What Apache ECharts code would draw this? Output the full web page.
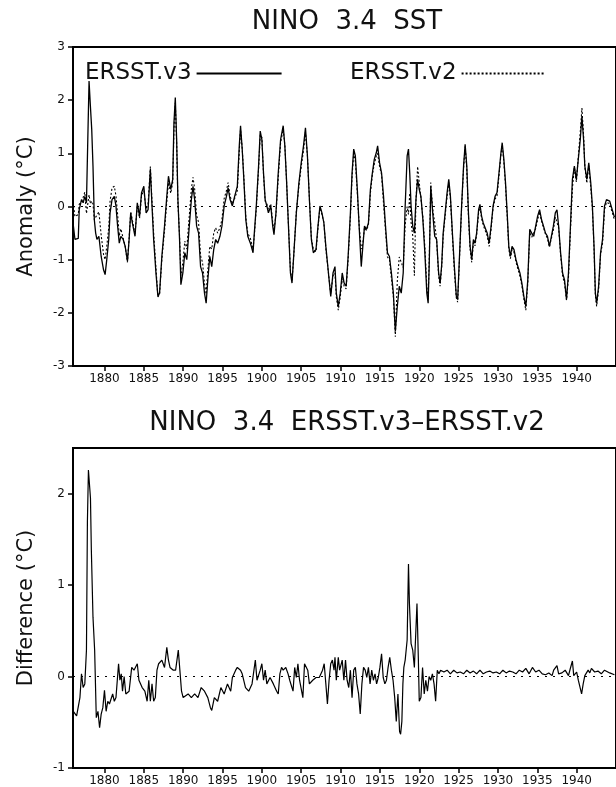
<!DOCTYPE html>
<html><head><meta charset="utf-8">
<script src="https://cdn.jsdelivr.net/npm/echarts@6/dist/echarts.min.js"></script>
<style>html,body{margin:0;padding:0;background:#fff}#c{width:616px;height:787px}</style>
</head><body><div id="c"></div>
<script>
const xTickYears = [1880,1885,1890,1895,1900,1905,1910,1915,1920,1925,1930,1935,1940];
const anomalyTicks = [-3,-2,-1,0,1,2,3];
const diffTicks = [-1,0,1,2];

const topYears = [
1876.00,1876.25,1876.67,1876.79,1877.08,1877.29,1877.50,1877.71,1877.88,1878.04,1878.21,1878.38,1878.54,1878.71,1878.88,
1879.04,1879.29,1879.58,1879.88,1880.08,1880.29,1880.54,1880.71,1880.96,1881.25,1881.46,1881.67,1881.88,1882.08,1882.38,
1882.63,1882.92,1883.13,1883.33,1883.54,1883.88,1884.17,1884.46,1884.71,1885.00,1885.29,1885.54,1885.83,1886.04,1886.25,
1886.54,1886.79,1887.00,1887.29,1887.63,1887.92,1888.13,1888.42,1888.67,1888.83,1889.00,1889.17,1889.33,1889.54,1889.71,
1889.96,1890.21,1890.46,1890.71,1891.04,1891.25,1891.46,1891.71,1891.96,1892.21,1892.46,1892.71,1892.92,1893.13,1893.38,
1893.63,1893.88,1894.13,1894.38,1894.67,1894.92,1895.21,1895.50,1895.71,1895.96,1896.25,1896.54,1896.88,1897.13,1897.29,
1897.50,1897.71,1897.96,1898.21,1898.54,1898.88,1899.04,1899.29,1899.58,1899.79,1900.00,1900.21,1900.42,1900.63,1900.83,
1901.13,1901.38,1901.54,1901.79,1902.08,1902.38,1902.71,1902.92,1903.13,1903.38,1903.63,1903.83,1904.04,1904.38,1904.71,
1905.00,1905.29,1905.54,1905.79,1906.04,1906.29,1906.54,1906.88,1907.13,1907.38,1907.63,1907.88,1908.13,1908.46,1908.75,
1909.04,1909.29,1909.46,1909.71,1909.96,1910.21,1910.46,1910.71,1910.96,1911.25,1911.46,1911.67,1911.88,1912.13,1912.38,
1912.63,1912.83,1913.04,1913.29,1913.54,1913.79,1914.04,1914.29,1914.54,1914.71,1914.96,1915.21,1915.46,1915.71,1915.96,
1916.21,1916.46,1916.71,1916.96,1917.21,1917.46,1917.71,1917.96,1918.21,1918.46,1918.63,1918.79,1918.96,1919.17,1919.38,
1919.58,1919.79,1920.00,1920.21,1920.46,1920.71,1920.96,1921.13,1921.29,1921.46,1921.71,1921.96,1922.21,1922.46,1922.65,
1922.85,1923.04,1923.29,1923.54,1923.75,1923.96,1924.21,1924.46,1924.71,1924.88,1925.13,1925.38,1925.63,1925.83,1926.04,
1926.25,1926.46,1926.67,1926.88,1927.08,1927.29,1927.54,1927.71,1927.92,1928.13,1928.38,1928.63,1928.88,1929.13,1929.38,
1929.63,1929.88,1930.13,1930.38,1930.54,1930.75,1930.96,1931.17,1931.38,1931.58,1931.79,1932.04,1932.29,1932.54,1932.79,
1933.04,1933.29,1933.54,1933.79,1934.04,1934.29,1934.54,1934.79,1935.04,1935.29,1935.54,1935.79,1936.04,1936.29,1936.54,
1936.79,1937.04,1937.29,1937.50,1937.71,1937.96,1938.21,1938.46,1938.71,1938.96,1939.21,1939.46,1939.71,1939.96,1940.21,
1940.46,1940.67,1940.88,1941.04,1941.29,1941.54,1941.79,1942.00,1942.21,1942.38,1942.54,1942.79,1943.04,1943.29,1943.54,
1943.79,1944.20,1944.80
];
const v3Values = [
-0.30,-0.62,-0.60,-0.06,0.13,0.07,0.19,0.07,1.26,2.36,1.89,1.45,0.76,-0.25,-0.50,
-0.62,-0.56,-0.94,-1.19,-1.28,-1.00,-0.62,-0.12,0.13,0.19,0.01,-0.37,-0.69,-0.56,-0.62,
-0.75,-1.03,-0.62,-0.12,-0.31,-0.56,0.07,-0.18,0.26,0.38,-0.12,-0.06,0.70,0.01,-0.62,
-1.25,-1.69,-1.63,-0.94,-0.37,0.19,0.57,0.32,0.51,1.58,2.05,1.26,0.13,-0.62,-1.47,
-1.25,-0.87,-1.00,-0.50,0.13,0.38,0.13,-0.37,-0.50,-1.13,-1.25,-1.63,-1.82,-1.38,-0.94,
-1.13,-0.81,-0.62,-0.69,-0.56,-0.37,0.01,0.19,0.35,0.13,0.01,0.19,0.38,1.14,1.52,
1.08,0.51,-0.25,-0.56,-0.69,-0.87,-0.50,0.01,0.76,1.42,1.26,0.63,0.13,0.01,-0.12,
0.01,-0.37,-0.53,-0.12,0.63,1.26,1.52,1.14,0.51,-0.37,-1.25,-1.44,-0.94,-0.12,0.45,
0.82,1.14,1.48,0.95,0.13,-0.62,-0.87,-0.81,-0.37,0.01,-0.12,-0.31,-0.75,-1.25,-1.69,
-1.25,-1.13,-1.63,-1.88,-1.63,-1.25,-1.44,-1.50,-0.94,-0.12,0.63,1.08,0.95,0.32,-0.43,
-1.13,-0.75,-0.37,-0.43,-0.31,0.32,0.63,0.89,1.01,1.14,0.82,0.63,0.19,-0.37,-0.87,
-0.94,-1.25,-1.63,-2.35,-1.88,-1.50,-1.63,-1.25,0.01,0.95,1.08,0.63,0.01,-0.37,-0.50,
0.13,0.51,0.32,0.19,-0.25,-0.87,-1.63,-1.82,-0.94,0.38,-0.12,-0.56,-0.62,-1.25,-1.44,
-1.10,-0.50,-0.12,0.26,0.51,0.19,-0.50,-1.13,-1.69,-1.75,-0.87,0.01,0.76,1.17,0.76,
-0.12,-0.75,-1.00,-0.62,-0.69,-0.50,-0.06,0.04,-0.18,-0.31,-0.28,-0.50,-0.69,-0.37,0.01,
0.19,0.26,0.63,1.01,1.20,0.89,0.45,-0.12,-0.75,-0.94,-0.75,-0.81,-1.00,-1.13,-1.25,
-1.44,-1.69,-1.88,-1.38,-0.43,-0.50,-0.56,-0.37,-0.18,-0.06,-0.25,-0.37,-0.50,-0.56,-0.75,
-0.56,-0.37,-0.12,-0.06,-0.37,-0.87,-1.25,-1.38,-1.75,-1.25,-0.37,0.51,0.76,0.51,0.89,
1.26,1.70,1.26,0.76,0.51,0.82,0.45,0.01,-0.75,-1.63,-1.82,-1.50,-0.87,-0.62,0.01,
0.13,0.10,-0.20
];
const v2Values = [
0.08,-0.19,-0.15,0.04,0.10,0.17,0.27,-0.13,0.05,0.22,0.05,0.10,0.05,-0.25,-0.20,
-0.20,-0.10,-0.54,-0.90,-1.00,-0.75,-0.40,0.10,0.35,0.38,0.20,-0.15,-0.55,-0.42,-0.60,
-0.75,-1.05,-0.60,-0.10,-0.25,-0.52,0.02,-0.22,0.20,0.30,-0.05,0.05,0.75,0.10,-0.50,
-1.15,-1.70,-1.65,-1.00,-0.45,0.10,0.45,0.25,0.45,1.45,1.95,1.20,0.10,-0.55,-1.30,
-1.05,-0.65,-0.80,-0.30,0.33,0.55,0.33,-0.17,-0.30,-0.93,-1.05,-1.45,-1.65,-1.20,-0.75,
-0.80,-0.50,-0.40,-0.50,-0.40,-0.25,0.15,0.30,0.45,0.20,0.05,0.15,0.30,1.05,1.45,
1.10,0.55,-0.20,-0.50,-0.60,-0.80,-0.55,-0.05,0.70,1.35,1.30,0.60,0.10,0.05,-0.05,
0.05,-0.30,-0.45,-0.15,0.55,1.20,1.45,1.15,0.50,-0.35,-1.20,-1.40,-0.95,-0.10,0.40,
0.75,1.05,1.40,0.95,0.15,-0.60,-0.80,-0.85,-0.40,-0.02,-0.15,-0.30,-0.80,-1.25,-1.65,
-1.30,-1.25,-1.70,-1.95,-1.70,-1.35,-1.50,-1.55,-1.00,-0.20,0.55,1.00,0.85,0.25,-0.40,
-0.80,-0.70,-0.40,-0.45,-0.35,0.25,0.60,0.80,0.95,1.00,0.75,0.60,0.05,-0.45,-0.95,
-1.00,-1.35,-1.70,-2.45,-1.40,-0.95,-1.05,-1.15,-0.35,0.00,-0.15,0.25,-0.30,-0.55,-1.30,
0.10,0.75,0.45,0.15,-0.20,-0.75,-1.50,-1.75,-0.85,0.45,-0.05,-0.30,-0.65,-1.30,-1.50,
-1.15,-0.55,-0.18,0.20,0.45,0.15,-0.55,-1.20,-1.72,-1.80,-0.92,-0.04,0.72,1.13,0.70,
-0.18,-0.80,-1.05,-0.68,-0.74,-0.53,-0.12,-0.01,-0.22,-0.35,-0.34,-0.55,-0.75,-0.42,-0.03,
0.14,0.20,0.58,0.97,1.15,0.83,0.40,-0.17,-0.80,-0.98,-0.81,-0.86,-1.04,-1.18,-1.31,
-1.49,-1.74,-1.95,-1.45,-0.48,-0.58,-0.61,-0.42,-0.25,-0.10,-0.28,-0.40,-0.52,-0.60,-0.76,
-0.60,-0.44,-0.20,-0.18,-0.40,-0.91,-1.30,-1.45,-1.76,-1.33,-0.45,0.34,0.74,0.46,0.93,
1.40,1.85,1.34,0.75,0.44,0.77,0.36,-0.05,-0.80,-1.68,-1.88,-1.56,-0.90,-0.69,-0.06,
0.08,0.05,-0.25
];

const diffYears = [
1876.04,1876.46,1876.67,1876.88,1877.08,1877.29,1877.50,1877.71,1877.83,1877.96,1878.13,1878.22,1878.33,1878.54,1878.75,
1878.96,1879.17,1879.38,1879.58,1879.79,1880.00,1880.21,1880.42,1880.63,1881.04,1881.25,1881.46,1881.79,1881.96,1882.13,
1882.29,1882.50,1882.71,1883.13,1883.46,1883.75,1884.17,1884.38,1884.79,1885.13,1885.42,1885.63,1885.83,1886.04,1886.25,
1886.46,1886.67,1886.88,1887.29,1887.63,1887.92,1888.13,1888.33,1888.75,1889.04,1889.38,1889.58,1889.79,1890.00,1890.63,
1891.04,1891.46,1891.88,1892.29,1892.71,1893.13,1893.46,1893.63,1893.96,1894.38,1894.79,1895.21,1895.63,1896.04,1896.25,
1896.67,1896.88,1897.29,1897.50,1897.92,1898.33,1898.75,1899.17,1899.38,1899.58,1899.79,1900.00,1900.21,1900.42,1900.63,
1901.04,1901.46,1901.88,1902.08,1902.29,1902.50,1902.71,1903.04,1903.33,1903.54,1903.96,1904.17,1904.38,1904.58,1904.79,
1905.21,1905.42,1905.63,1905.83,1906.04,1906.46,1906.88,1907.29,1907.71,1907.92,1908.13,1908.33,1908.54,1908.75,1908.96,
1909.17,1909.29,1909.46,1909.71,1909.88,1910.21,1910.42,1910.63,1910.83,1911.04,1911.25,1911.46,1911.67,1911.88,1912.08,
1912.29,1912.50,1912.71,1912.92,1913.13,1913.33,1913.54,1913.75,1913.96,1914.17,1914.38,1914.58,1914.79,1915.00,1915.21,
1915.42,1915.63,1915.83,1916.04,1916.25,1916.46,1916.67,1916.88,1917.08,1917.29,1917.50,1917.63,1917.79,1917.92,1918.04,
1918.21,1918.46,1918.63,1918.75,1918.96,1919.17,1919.38,1919.50,1919.71,1919.88,1920.00,1920.21,1920.42,1920.63,1920.83,
1921.04,1921.25,1921.46,1921.67,1921.88,1922.08,1922.29,1922.50,1922.71,1923.13,1923.54,1923.96,1924.38,1924.79,1925.21,
1925.63,1926.04,1926.46,1926.88,1927.29,1927.71,1928.13,1928.54,1928.96,1929.38,1929.79,1930.21,1930.63,1931.04,1931.46,
1931.88,1932.29,1932.71,1933.13,1933.54,1933.75,1933.96,1934.38,1934.79,1935.21,1935.63,1936.04,1936.46,1936.88,1937.08,
1937.50,1937.71,1938.13,1938.54,1938.96,1939.17,1939.46,1939.63,1940.00,1940.21,1940.63,1940.83,1941.04,1941.46,1941.67,
1941.88,1942.29,1942.71,1943.13,1943.54,1943.75,1944.20,1944.80
];
const diffValues = [
-0.38,-0.43,-0.45,-0.23,0.03,-0.12,-0.08,0.29,1.69,2.26,2.06,1.95,1.39,0.65,0.29,
-0.45,-0.38,-0.56,-0.41,-0.34,-0.15,-0.38,-0.27,-0.30,-0.19,-0.27,-0.23,0.14,-0.04,0.03,
-0.16,0.00,-0.19,-0.16,0.10,0.07,0.14,-0.04,-0.12,-0.16,-0.27,-0.04,-0.27,-0.08,-0.27,
-0.23,0.07,0.14,0.18,0.10,0.32,0.18,0.10,0.07,0.07,0.29,0.07,-0.16,-0.23,-0.19,
-0.23,-0.19,-0.23,-0.12,-0.16,-0.23,-0.34,-0.37,-0.23,-0.27,-0.12,-0.19,-0.08,-0.16,-0.01,
0.07,0.10,0.07,0.03,-0.12,-0.16,-0.08,0.18,-0.04,-0.04,0.07,0.14,-0.04,0.07,-0.08,
-0.01,-0.08,-0.16,-0.19,0.03,0.10,0.07,0.10,0.03,-0.04,-0.16,0.10,-0.01,0.14,-0.04,
-0.23,0.14,0.14,0.07,-0.08,-0.04,-0.01,-0.01,0.07,0.14,-0.08,-0.30,-0.04,0.14,0.18,
0.07,0.21,-0.04,0.21,0.07,0.18,-0.04,0.18,-0.04,-0.12,0.07,-0.23,0.07,0.10,-0.08,
-0.19,-0.41,-0.08,0.10,0.07,-0.01,0.10,-0.08,0.07,-0.04,0.03,-0.08,-0.01,0.10,0.25,
-0.01,-0.08,-0.04,0.10,0.21,0.07,-0.04,-0.23,-0.49,-0.19,-0.60,-0.63,-0.49,-0.08,0.10,
0.18,0.40,1.23,0.80,0.36,0.29,0.10,0.36,0.80,0.21,-0.27,-0.23,0.10,-0.19,-0.04,
-0.16,0.00,-0.04,0.03,-0.08,-0.27,0.07,0.03,0.07,0.05,0.07,0.03,0.07,0.04,0.05,
0.03,0.07,0.04,0.06,0.03,0.07,0.03,0.05,0.06,0.04,0.05,0.03,0.07,0.04,0.06,
0.05,0.03,0.07,0.05,0.09,0.07,0.03,0.10,0.05,0.07,0.03,0.02,0.04,0.01,0.07,
0.12,0.03,0.04,0.07,0.01,0.08,0.17,0.01,0.05,-0.04,-0.19,-0.08,0.01,0.07,0.04,
0.09,0.05,0.06,0.03,0.07,0.05,0.04,0.02
];

const FONT = 'DejaVu Sans';
const INK = '#111';

function xAxisCfg(gi) {
  return {
    type: 'value', gridIndex: gi, min: 1876, max: 1945,
    axisLine: {show: true, onZero: false, lineStyle: {color: '#000', width: 2}},
    axisTick: {show: true, customValues: xTickYears, length: 5, lineStyle: {color: '#000', width: 1.5}},
    axisLabel: {customValues: xTickYears, fontSize: 12, fontFamily: FONT, color: INK, margin: 7,
      formatter: v => String(v)},
    splitLine: {show: false}
  };
}
function yAxisCfg(gi, name, mn, mx, ticks) {
  return {
    type: 'value', gridIndex: gi, min: mn, max: mx,
    name: name, nameLocation: 'middle', nameGap: 36,
    nameTextStyle: {fontSize: 21, fontFamily: FONT, color: INK},
    axisLine: {show: true, onZero: false, lineStyle: {color: '#000', width: 2}},
    axisTick: {show: true, customValues: ticks, length: 5, lineStyle: {color: '#000', width: 1.5}},
    axisLabel: {customValues: ticks, fontSize: 12, fontFamily: FONT, color: INK, margin: 8,
      formatter: v => String(v)},
    splitLine: {show: false}
  };
}
const zeroLine = {
  silent: true, symbol: ['none', 'none'], label: {show: false},
  lineStyle: {color: '#000', type: [2, 6], width: 1.2},
  data: [{yAxis: 0}], animation: false
};

const chart = echarts.init(document.getElementById('c'), null, {renderer: 'canvas'});
chart.setOption({
  backgroundColor: '#fff',
  animation: false,
  graphic: [
    {type: 'text', x: 347, y: 22, style: {text: 'NINO  3.4  SST', font: '26px "DejaVu Sans"', fill: INK, align: 'center', verticalAlign: 'middle'}},
    {type: 'text', x: 347, y: 423, style: {text: 'NINO  3.4  ERSST.v3\u2013ERSST.v2', font: '26px "DejaVu Sans"', fill: INK, align: 'center', verticalAlign: 'middle'}}
  ],
  legend: [
    {data: ['ERSST.v3'], left: 80, top: 57, align: 'right', itemWidth: 85, itemHeight: 12,
     selectedMode: false, textStyle: {fontSize: 23, fontFamily: FONT, color: INK},
     itemStyle: {opacity: 0}},
    {data: ['ERSST.v2'], left: 345, top: 57, align: 'right', itemWidth: 83, itemHeight: 12,
     selectedMode: false, textStyle: {fontSize: 23, fontFamily: FONT, color: INK},
     itemStyle: {opacity: 0}}
  ],
  grid: [
    {left: 73, top: 47, height: 319, right: -9, show: true, borderColor: '#000', borderWidth: 2, backgroundColor: 'transparent'},
    {left: 73, top: 448, height: 320, right: -9, show: true, borderColor: '#000', borderWidth: 2, backgroundColor: 'transparent'}
  ],
  xAxis: [xAxisCfg(0), xAxisCfg(1)],
  yAxis: [
    Object.assign(yAxisCfg(0, 'Anomaly (\u00B0C)', -3, 3, anomalyTicks), {interval: 1}),
    yAxisCfg(1, 'Difference (\u00B0C)', -1, 2.5, diffTicks)
  ],
  series: [
    {type: 'line', name: 'ERSST.v3', xAxisIndex: 0, yAxisIndex: 0, symbol: 'none',
     data: topYears.map((y, i) => [y, v3Values[i]]),
     lineStyle: {color: '#000', width: 1.3}, itemStyle: {color: '#000'}, markLine: zeroLine, z: 3},
    {type: 'line', name: 'ERSST.v2', xAxisIndex: 0, yAxisIndex: 0, symbol: 'none',
     data: topYears.map((y, i) => [y, v2Values[i]]),
     lineStyle: {color: '#000', width: 1.1, type: [2, 2]}, itemStyle: {color: '#000'}, z: 2},
    {type: 'line', name: 'Difference', xAxisIndex: 1, yAxisIndex: 1, symbol: 'none',
     data: diffYears.map((y, i) => [y, diffValues[i]]),
     lineStyle: {color: '#000', width: 1.2}, itemStyle: {color: '#000'}, markLine: zeroLine, z: 3}
  ]
});
</script>
</body></html>
